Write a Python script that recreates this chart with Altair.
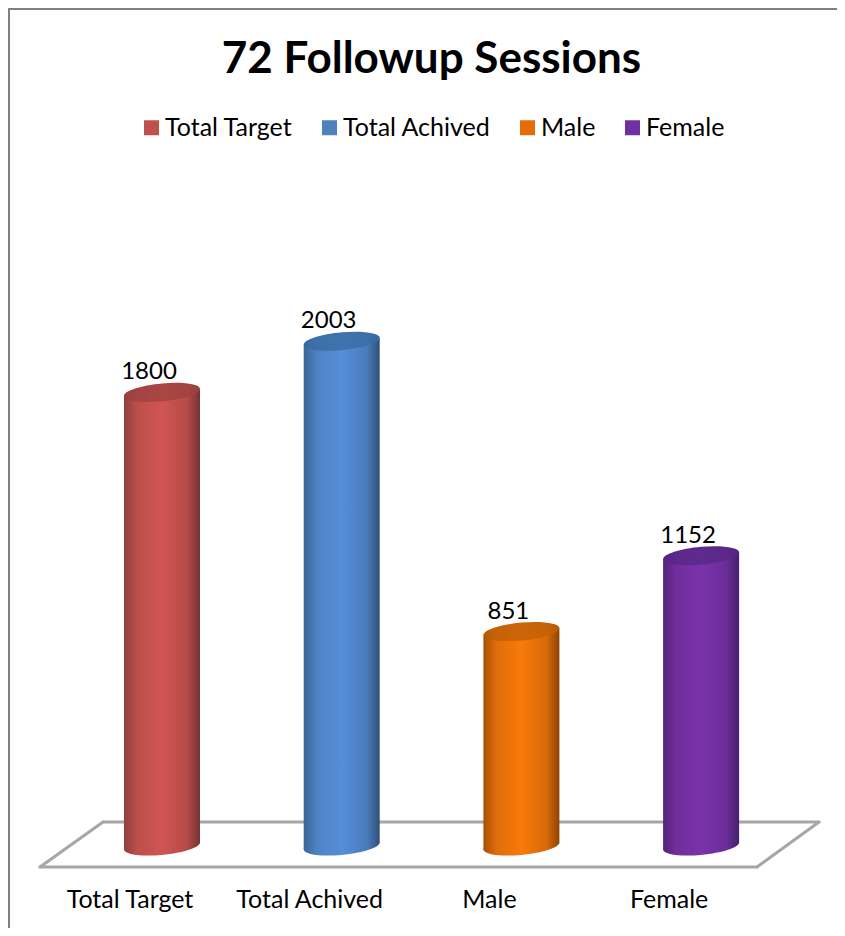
import altair as alt
import pandas as pd

categories = ["Total Target", "Total Achived", "Male", "Female"]
values = [1800, 2003, 851, 1152]
swatch = ["#c0504d", "#4f81bd", "#e46c0a", "#7030a0"]
edge_l = ["#8f3f3d", "#3a6596", "#a65006", "#53237a"]
center = ["#d05553", "#568fd8", "#f87a0a", "#7b32ab"]
edge_r = ["#753331", "#2f5078", "#8c4405", "#46206a"]
cap_l = ["#96403e", "#39689f", "#b65a06", "#562481"]
cap_r = ["#a94644", "#3f73ad", "#cc6507", "#5f2a8e"]

W, H = 829, 920
LATO = "Lato"
SLOT_PX = 179.7
X0_PX = 154.0
HALF_PX = 38.0
UNIT = 0.252
ZERO_PX = 838.0
SHEAR_U = 3.5 / UNIT
HW = HALF_PX / SLOT_PX

x_scale = alt.Scale(domain=[-X0_PX / SLOT_PX, (W - X0_PX) / SLOT_PX], range=[0, W], nice=False, zero=False)
y_scale = alt.Scale(domain=[-(H - ZERO_PX) / UNIT, ZERO_PX / UNIT], range=[H, 0], nice=False, zero=False)


def ellipse_path(b=0.235, s=0.09, k=0.5523):
    pts = [(1, 0), (1, k * b), (k, b), (0, b), (-k, b), (-1, k * b), (-1, 0),
           (-1, -k * b), (-k, -b), (0, -b), (k, -b), (1, -k * b), (1, 0)]
    p = [(x, y - s * x) for x, y in pts]
    f = lambda q: f"{q[0]:.4f},{q[1]:.4f}"
    out = "M" + f(p[0])
    for i in range(1, 13, 3):
        out += " C" + f(p[i]) + " " + f(p[i + 1]) + " " + f(p[i + 2])
    return out + " Z"


ELLIPSE = ellipse_path()
SIZE = (2 * HALF_PX) ** 2


def mix(a, b, t):
    ca = [int(a[j:j + 2], 16) for j in (1, 3, 5)]
    cb = [int(b[j:j + 2], 16) for j in (1, 3, 5)]
    return "#" + "".join(f"{round(x + (y - x) * t):02x}" for x, y in zip(ca, cb))


def grad(a, b, c):
    return alt.Gradient(
        gradient="linear", x1=0, x2=1, y1=0, y2=0,
        stops=[alt.GradientStop(color=a, offset=0),
               alt.GradientStop(color=mix(a, b, 0.7), offset=0.17),
               alt.GradientStop(color=b, offset=0.5),
               alt.GradientStop(color=mix(c, b, 0.7), offset=0.83),
               alt.GradientStop(color=c, offset=1)],
    )


def vline(x1, y1, x2, y2, color="#a6a6a6", w=3.0):
    return alt.Chart(pd.DataFrame({"a": [0]})).mark_rule(color=color, strokeWidth=w, strokeCap="round").encode(
        x=alt.value(x1 - 8), y=alt.value(y1 - 8), x2=alt.value(x2 - 8), y2=alt.value(y2 - 8)
    )


base = pd.DataFrame({"slot": range(4), "cat": categories, "v": values, "zero": [0] * 4})
X = alt.X("slot:Q", scale=x_scale, axis=None)
Y = alt.Y("v:Q", scale=y_scale, axis=None)

layers = [
    vline(9, 9, 9, 928, "#808080", 2),
    vline(9, 9, 837, 9, "#808080", 2),
    vline(103, 822, 819, 822),
    vline(40, 867, 757, 867),
    vline(40, 867, 103, 822),
    vline(757, 867, 819, 822),
]

# legend carrier, hidden inside the bars
layers.append(
    alt.Chart(base).mark_point(filled=True, size=1, opacity=1).encode(
        x=X, y=alt.Y("zero:Q", scale=y_scale, axis=None),
        fill=alt.Fill("cat:N", scale=alt.Scale(domain=categories, range=swatch), sort=None,
                      legend=alt.Legend(title=None, orient="none", legendX=131, legendY=107,
                                        direction="horizontal", columns=4, columnPadding=24,
                                        symbolType="square", symbolSize=225, symbolStrokeWidth=0,
                                        symbolOpacity=1, labelFont=LATO, labelFontSize=25,
                                        labelColor="#000000", labelOffset=1, labelLimit=300)),
    )
)

for i, cat in enumerate(categories):
    row = base[base.cat == cat]
    fill = grad(edge_l[i], center[i], edge_r[i])
    body = pd.DataFrame({
        "slot": [i - HW, i + HW],
        "top": [values[i] - SHEAR_U, values[i] + SHEAR_U],
        "bot": [-SHEAR_U, SHEAR_U],
    })
    layers.append(
        alt.Chart(row).mark_point(shape=ELLIPSE, size=SIZE, filled=True, opacity=1, fill=fill, strokeWidth=0).encode(
            x=X, y=alt.Y("zero:Q", scale=y_scale, axis=None))
    )
    layers.append(
        alt.Chart(body).mark_area(fill=fill, interpolate="linear").encode(
            x=alt.X("slot:Q", scale=x_scale, axis=None),
            y=alt.Y("top:Q", scale=y_scale, axis=None),
            y2=alt.Y2("bot:Q"))
    )
    layers.append(
        alt.Chart(row).mark_point(shape=ELLIPSE, size=SIZE, filled=True, opacity=1,
                                  fill=grad(cap_l[i], cap_r[i], cap_l[i]), strokeWidth=0).encode(x=X, y=Y)
    )

layers.append(
    alt.Chart(base).mark_text(font=LATO, fontSize=24, color="#000000", dx=-13, dy=-20, baseline="middle").encode(
        x=X, y=Y, text=alt.Text("v:Q", format="d"))
)
layers.append(
    alt.Chart(base).mark_text(font=LATO, fontSize=25, color="#000000", dx=-32, baseline="middle").encode(
        x=X, y=alt.value(900 - 8), text="cat:N")
)

chart = alt.layer(*layers).resolve_scale(fill="independent").properties(
    width=W, height=H, background="white",
    autosize=alt.AutoSizeParams(type="none"), padding=0,
    title=alt.TitleParams("72 Followup Sessions", font=LATO, fontSize=44, fontWeight="bold",
                          color="#000000", anchor="middle", dx=9, dy=74, offset=0),
).configure_view(strokeWidth=0)

chart.save("out.html", embed_options={"renderer": "svg", "actions": False})
